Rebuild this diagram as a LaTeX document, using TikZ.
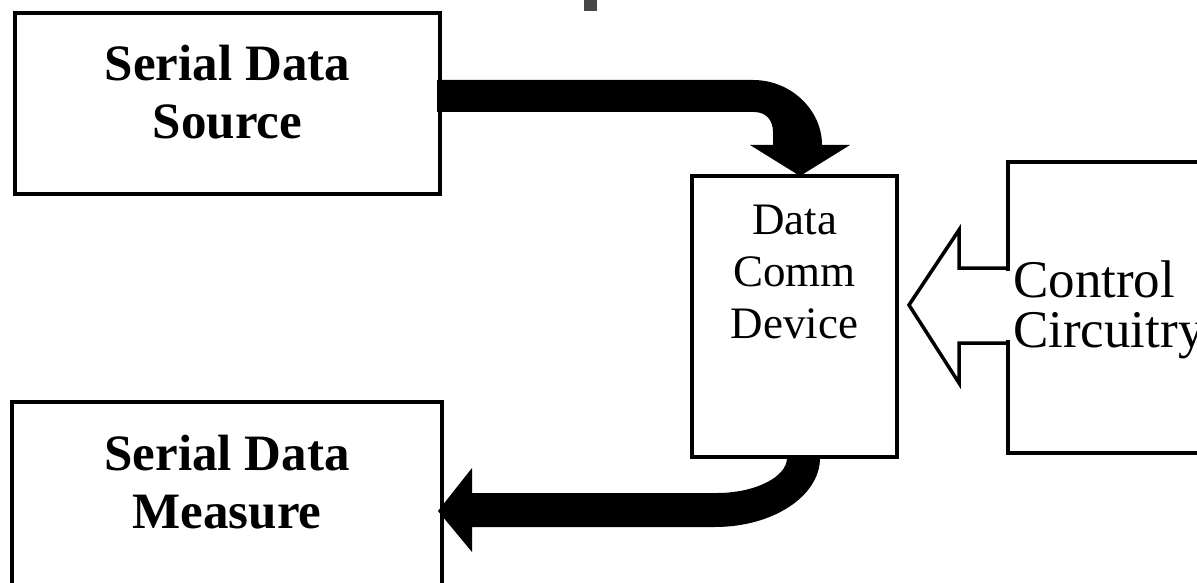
\documentclass[tikz,border=0pt]{standalone}
\usepackage{fontspec}
\setmainfont{Liberation Serif}
\usepackage{tikz}

\begin{document}
\begin{tikzpicture}[x=1pt, y=-1pt,
    blk/.style={draw, line width=3.5pt, rectangle, inner sep=0pt},
    bigbold/.style={inner sep=0pt, align=center, font=\fontsize{51}{58}\selectfont\bfseries},
    plain/.style={inner sep=0pt, font=\fontsize{45}{52}\selectfont}]
    \clip (0,0) rectangle (1197,583);
    % Boxes
    \node[blk, minimum width=425, minimum height=181] (src) at (227.5,103.5) {}; % source
    \node[blk, minimum width=430, minimum height=218] (msr) at (227,511) {}; % measure
    \node[blk, minimum width=205, minimum height=281] (dev) at (794.5,316.5) {}; % device
    \node[blk, minimum width=222, minimum height=291] (ctl) at (1119,307.5) {}; % control
    % Labels
    \node[bigbold, anchor=north] (srclbl) at (227.5,45) {Serial Data\\Source};
    \node[bigbold, anchor=north] (msrlbl) at (227,435) {Serial Data\\Measure};
    \node[plain, align=center, anchor=north] (devlbl) at (794.5,205) {Data\\Comm\\Device};
    \node[plain, align=left, anchor=north west, font=\fontsize{53}{50}\selectfont]
    (ctllbl) at (1013,261) {Control\\Circuitry};
    % Bent arrow: source -> device
    \fill[black] (437,80) -- (753,80)
    .. controls (791,80) and (822,110) .. (822,145)
    -- (850,145) -- (800,176) -- (750,145) -- (773,145) -- (773,132)
    .. controls (773,120) and (766,112) .. (754,112)
    -- (437,112) -- cycle;
    % Bent arrow: device -> measure
    \fill[black] (820,458)
    .. controls (820,496) and (773,527) .. (715,527)
    -- (472,527) -- (472,552) -- (438,511) -- (472,468) -- (472,493)
    -- (717,493) .. controls (755,493) and (787,477) .. (787,458) -- cycle;
    % Outline arrow: control -> device
    \fill[white] (1004,271) rectangle (1012,340);
    \draw[line width=3.5pt, line join=miter] (1008,268) -- (959,268) -- (959,230)
    -- (909,305) -- (959,383) -- (959,343) -- (1008,343);
    % Grey mark at the top
    \fill[black!72] (584,0) rectangle (597,11);
\end{tikzpicture}
\end{document}
